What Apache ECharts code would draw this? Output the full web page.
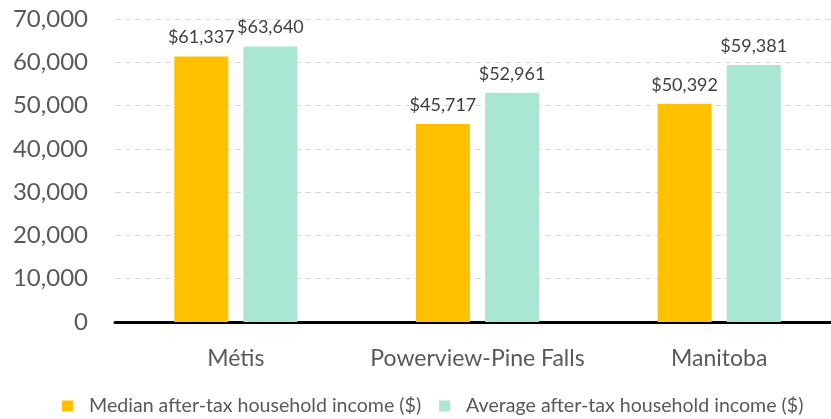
<!DOCTYPE html>
<html>
<head>
<meta charset="utf-8">
<script src="https://cdn.jsdelivr.net/npm/echarts@6/dist/echarts.min.js"></script>
<style>
  html, body { margin: 0; padding: 0; background: #fff; }
  #chart { width: 831px; height: 419px; }
</style>
</head>
<body>
<div id="chart"></div>
<script>
var categories = ['Métis', 'Powerview-Pine Falls', 'Manitoba'];
var medianIncome = [61337, 45717, 50392];
var averageIncome = [63640, 52961, 59381];
var seriesNames = ['Median after-tax household income ($)', 'Average after-tax household income ($)'];

var fontFamily = 'Lato, "Open Sans", sans-serif';

function money( p ) {
    return '$' + p.value.toLocaleString('en-US');
}

var myChart = echarts.init( document.getElementById('chart') ),
    option = {
        animation: false,
        color: [ '#FFC000', '#A9E6D3' ],
        textStyle: { fontFamily: fontFamily },
        // plot area runs a little past the right edge, as in the source
        grid: {
            left: 115,
            width: 725,
            top: 19,
            bottom: 97,
            outerBoundsMode: 'none'
        },
        legend: {
            bottom: -2,
            left: 57,
            itemWidth: 11,
            itemHeight: 11,
            itemGap: 18,
            icon: 'rect',
            textStyle: { fontSize: 19.6, color: '#595959', fontFamily: fontFamily, padding: [ 0, 0, 0, 11 ] }
        },
        xAxis: {
            type: 'category',
            data: categories,
            axisLine: { lineStyle: { color: '#000', width: 3 } },
            axisTick: { show: false },
            axisLabel: { fontSize: 23, color: '#595959', margin: 25, interval: 0 }
        },
        yAxis: {
            type: 'value',
            min: 0,
            max: 70000,
            interval: 10000,
            axisLine: { show: false },
            axisTick: { show: false },
            axisLabel: {
                fontSize: 24,
                color: '#595959',
                margin: 27,
                formatter: function( v ) { return v.toLocaleString('en-US'); }
            },
            splitLine: { lineStyle: { color: '#d9d9d9', type: [ 6, 4 ], width: 1 } }
        },
        series: [
            {
                name: seriesNames[0],
                type: 'bar',
                data: medianIncome,
                barWidth: 54,
                barGap: '28%',
                label: { show: true, position: 'top', distance: 10, fontSize: 18, color: '#404040', formatter: money }
            },
            {
                name: seriesNames[1],
                type: 'bar',
                data: averageIncome,
                barWidth: 54,
                barGap: '28%',
                label: { show: true, position: 'top', distance: 10, fontSize: 18, color: '#404040', formatter: money }
            }
        ]
    };
myChart.setOption( option );
</script>
</body>
</html>
